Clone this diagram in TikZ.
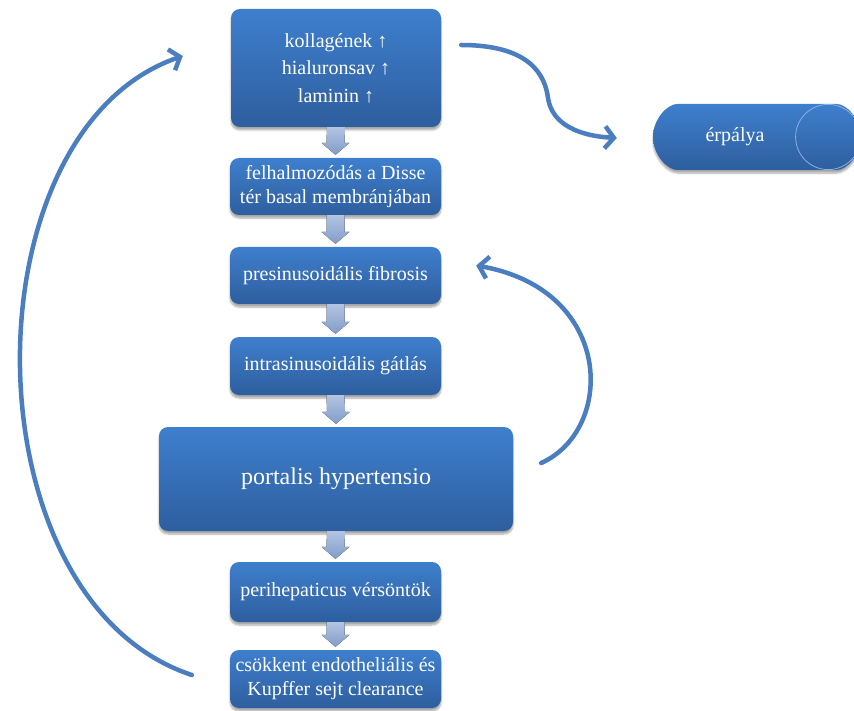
\documentclass[tikz,border=0pt]{standalone}
\usepackage{fontspec}
\setmainfont{Liberation Serif}
\usetikzlibrary{arrows.meta,shapes.misc,shadows.blur}

\definecolor{boxtop}{RGB}{62,127,205}
\definecolor{boxbot}{RGB}{46,94,158}
\definecolor{arrowblue}{RGB}{74,126,193}
\definecolor{steptop}{RGB}{178,196,226}
\definecolor{stepbot}{RGB}{130,156,200}

\begin{document}
\begin{tikzpicture}[x=1pt,y=-1pt,
  box/.style={rounded corners=9pt, top color=boxtop, bottom color=boxbot, text=white,
    align=center, inner sep=0pt, minimum width=211pt, font=\fontsize{20}{24}\selectfont,
    blur shadow={shadow xshift=0pt, shadow yshift=-3pt, shadow blur steps=6, shadow opacity=35}},
  curve/.style={line width=4.5pt, draw=arrowblue, line cap=round,
    -{Straight Barb[length=9pt,width=22pt]}},
  downarrow/.style={top color=steptop, bottom color=stepbot, draw=none}]
\useasboundingbox (0,0) rectangle (854,711);

% main chain
\node[box, minimum height=118pt, minimum width=210pt, font=\fontsize{20}{27.5}\selectfont] (kol) at (336,68)
  {kollagének ↑\\hialuronsav ↑\\laminin ↑};
\node[box, minimum height=57pt] (felh) at (335.5,186.5) {felhalmozódás a Disse\\tér basal membránjában};
\node[box, minimum height=57pt] (pres) at (335.5,275.5) {presinusoidális fibrosis};
\node[box, minimum height=58pt] (intra) at (335.5,366) {intrasinusoidális gátlás};
\node[box, minimum height=104pt, minimum width=354pt, font=\fontsize{24}{28}\selectfont] (port) at (336,479) {portalis hypertensio};
\node[box, minimum height=60pt] (peri) at (335.5,592) {perihepaticus vérsöntök};
\node[box, minimum height=58pt] (csok) at (335.5,679) {csökkent endotheliális és\\Kupffer sejt clearance};

% erpalya as a lying cylinder
\node[box, rounded rectangle, minimum width=208pt, minimum height=66pt,
  label={[text=white, font=\fontsize{20}{24}\selectfont, xshift=-22pt]center:érpálya}] (erp) at (757,137) {};
\draw[boxtop!60!white, line width=0.8pt] ([xshift=-33pt]erp.east) circle[radius=32.6pt];

% small arrows between the boxes
\foreach \a/\b in {kol/felh, felh/pres, pres/intra, intra/port, port/peri, peri/csok}
  \fill[downarrow] ([xshift=-9pt]\a.south) -- ([xshift=-9pt,yshift=15pt]\b.north)
    -- ([xshift=-14pt,yshift=15pt]\b.north) -- ([yshift=3pt]\b.north)
    -- ([xshift=14pt,yshift=15pt]\b.north) -- ([xshift=9pt,yshift=15pt]\b.north)
    -- ([xshift=9pt]\a.south) -- cycle;

% curved arrows
\draw[curve] ([shift={(20,-23)}]kol.east) .. controls (530,45) and (545,75) .. (548,98)
  .. controls (552,125) and (580,136) .. ([shift={(-36,1)}]erp.west);
\draw[curve] ([shift={(28,-16)}]port.east) .. controls (615,430) and (615,290) .. ([shift={(35,-10)}]pres.east);
\draw[curve] ([shift={(-38,-4)}]csok.west) .. controls (-35,600) and (-35,130) .. ([shift={(-48,-12)}]kol.west);
\end{tikzpicture}
\end{document}
